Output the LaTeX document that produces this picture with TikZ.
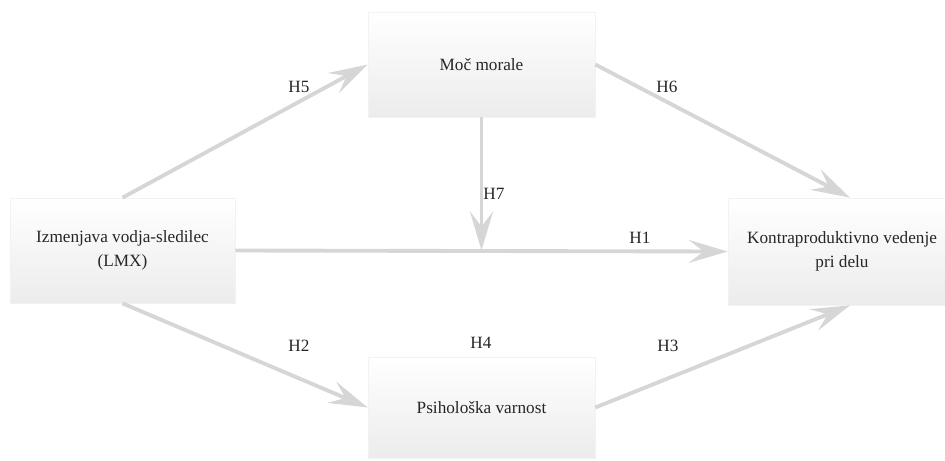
\documentclass[tikz,border=0pt]{standalone}
\usepackage{fontspec}
\setmainfont{Liberation Serif}
\usetikzlibrary{arrows.meta}

\tikzset{
  factor/.style={draw=gray!10, top color=white, bottom color=gray!15,
    minimum width=#1, minimum height=2.1cm, inner sep=0pt, align=center,
    text=black!85, font=\rmfamily\fontsize{9.8}{14}\selectfont},
  hyp/.style={draw=gray!32, line width=2.2pt,
    -{Stealth[length=0.78cm, width=0.46cm, inset=0.3cm]}},
  hlabel/.style={text=black!85, font=\rmfamily\fontsize{9.8}{12}\selectfont}
}

\begin{document}
\begin{tikzpicture}[x=0.02cm, y=-0.02cm]
  \clip (0, 0) rectangle (945, 460);

  % Factors
  \node [factor=4.5cm] (lmx) at (122.5, 250.5)
        {Izmenjava vodja-sledilec\\(LMX)};
  \node [factor=4.54cm] (moc) at (481.5, 64.5) {Moč morale};
  \node [factor=4.54cm, minimum height=2.02cm] (psi) at (481.5, 407.5)
        {Psihološka varnost};
  \node [factor=4.56cm, minimum height=2.14cm] (cwb) at (842, 251.5)
        {Kontraproduktivno vedenje\\pri delu};
  \coordinate (join) at (moc.south |- lmx.east);

  % Hypotheses
  \draw [hyp] (lmx.east) -- (cwb.west);
  \draw [hyp] (lmx.north) -- (moc.west);
  \draw [hyp] (moc.east) -- ([xshift=0.16cm]cwb.north);
  \draw [hyp] (moc.south) -- (join);
  \draw [hyp] (lmx.south) -- (psi.west);
  \draw [hyp] (psi.east) -- ([xshift=0.16cm]cwb.south);

  % Labels
  \node [hlabel] (h1) at (640, 238) {H1};
  \node [hlabel] (h2) at (299, 346) {H2};
  \node [hlabel] (h3) at (668, 346) {H3};
  \node [hlabel] (h4) at (481, 343) {H4};
  \node [hlabel] (h5) at (299, 87) {H5};
  \node [hlabel] (h6) at (667, 87) {H6};
  \node [hlabel] (h7) at (494, 194) {H7};
\end{tikzpicture}
\end{document}
